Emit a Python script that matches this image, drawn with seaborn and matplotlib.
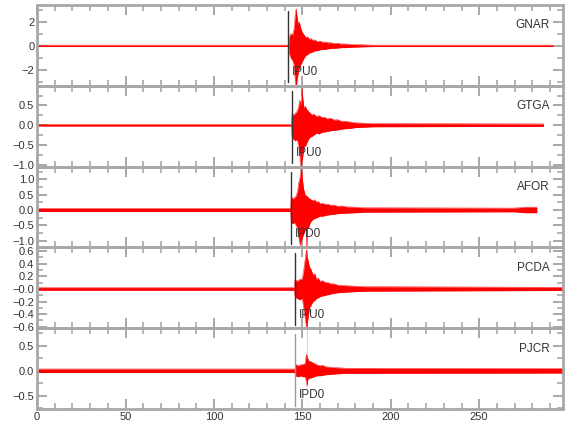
import matplotlib
matplotlib.use("Agg")
import pandas as pd
import matplotlib.pyplot as plt
import matplotlib.ticker as mticker
import matplotlib.transforms as mtransforms
import seaborn as sns

# stations, top to bottom
stations = ['GNAR', 'GTGA', 'AFOR', 'PCDA', 'PJCR']
pick_labels = ['IPU0', 'IPU0', 'IPD0', 'IPU0', 'IPD0']
pick_times = [142.1, 144.0, 143.5, 145.7, 146.0]

# trace envelopes (time in s, upper / lower amplitude)
gnar_t = [0, 142.4, 142.8, 143.5, 144.5, 145.3, 146.0, 146.5, 147.0, 147.6, 148.2, 149.0, 150.0,
          151.0, 152.0, 153.0, 154.0, 155.0, 156.0, 157.0, 158.5, 160.0, 161.5, 163.0, 164.5,
          166.0, 168.0, 170.0, 172.0, 174.0, 177.0, 180.0, 185.0, 190.0, 291.8]
gnar_up = [0.06, 0.06, 0.8, 1.0, 0.9, 1.4, 2.6, 3.1, 2.4, 1.8, 2.0, 1.5, 1.1,
           0.9, 0.7, 0.75, 0.55, 0.6, 0.45, 0.5, 0.35, 0.4, 0.3, 0.32, 0.25,
           0.26, 0.2, 0.22, 0.15, 0.16, 0.12, 0.1, 0.08, 0.06, 0.06]
gnar_lo = [-0.06, -0.06, -0.7, -1.0, -1.2, -1.6, -3.0, -3.7, -2.8, -2.3, -1.9, -1.6, -1.3,
           -1.0, -0.8, -0.7, -0.6, -0.55, -0.5, -0.42, -0.4, -0.33, -0.3, -0.28, -0.25,
           -0.22, -0.2, -0.18, -0.15, -0.15, -0.12, -0.1, -0.08, -0.06, -0.06]

gtga_t = [0, 143.9, 144.2, 145.0, 146.0, 147.0, 147.8, 148.5, 149.2, 149.8, 150.2, 150.8, 151.6,
          152.5, 153.5, 154.4, 155.5, 156.5, 158.0, 159.5, 161.0, 162.5, 164.0, 166.0, 168.0,
          170.0, 172.0, 174.0, 177.0, 180.0, 185.0, 190.0, 286.4]
gtga_up = [0.02, 0.02, 0.3, 0.25, 0.3, 0.35, 0.45, 0.63, 0.5, 0.95, 0.7, 0.45, 0.48,
           0.4, 0.35, 0.3, 0.26, 0.28, 0.22, 0.24, 0.2, 0.2, 0.16, 0.18, 0.13,
           0.14, 0.1, 0.1, 0.08, 0.06, 0.05, 0.04, 0.03]
gtga_lo = [-0.02, -0.02, -0.3, -0.35, -0.4, -0.35, -0.5, -0.7, -1.15, -0.9, -0.8, -0.55, -0.53,
           -0.45, -0.35, -0.3, -0.28, -0.25, -0.2, -0.22, -0.18, -0.17, -0.16, -0.14, -0.13,
           -0.12, -0.1, -0.09, -0.08, -0.06, -0.05, -0.04, -0.03]

afor_t = [0, 143.4, 143.7, 144.5, 145.5, 146.5, 147.3, 148.0, 148.8, 149.4, 150.0, 150.6, 151.5,
          152.3, 152.5, 152.7, 153.3, 154.5, 156.0, 157.0, 158.0, 159.0, 160.0, 161.5, 163.0,
          164.5, 166.0, 168.0, 170.0, 172.5, 175.0, 180.0, 185.0, 270.0, 276.0, 282.6]
afor_up = [0.05, 0.05, 0.45, 0.35, 0.4, 0.45, 0.6, 0.9, 1.1, 1.45, 1.0, 0.7, 0.5,
           0.45, 0.45, 0.45, 0.4, 0.35, 0.3, 0.33, 0.25, 0.28, 0.2, 0.22, 0.18,
           0.19, 0.15, 0.16, 0.12, 0.13, 0.1, 0.09, 0.07, 0.06, 0.09, 0.09]
afor_lo = [-0.05, -0.05, -0.4, -0.45, -0.4, -0.5, -0.6, -0.9, -1.15, -1.0, -0.9, -0.8, -0.66,
           -0.66, -1.47, -0.6, -0.6, -0.4, -0.3, -0.28, -0.25, -0.23, -0.2, -0.2, -0.18,
           -0.16, -0.15, -0.14, -0.12, -0.11, -0.1, -0.09, -0.07, -0.06, -0.09, -0.09]

pcda_t = [0, 145.5, 145.8, 147.0, 148.5, 150.0, 150.8, 151.5, 152.0, 152.3, 152.5, 152.7, 153.2,
          154.0, 155.0, 156.0, 157.0, 158.0, 159.0, 160.0, 161.5, 163.0, 164.5, 166.0, 168.0,
          170.0, 175.0, 185.0, 297.5]
pcda_up = [0.02, 0.02, 0.15, 0.12, 0.15, 0.16, 0.3, 0.45, 0.55, 0.62, 0.6, 0.5, 0.45,
           0.35, 0.3, 0.22, 0.24, 0.15, 0.17, 0.12, 0.13, 0.1, 0.1, 0.08, 0.08,
           0.06, 0.05, 0.035, 0.025]
pcda_lo = [-0.02, -0.02, -0.12, -0.15, -0.17, -0.15, -0.3, -0.45, -0.55, -0.6, -1.95, -0.55, -0.45,
           -0.3, -0.25, -0.2, -0.18, -0.15, -0.14, -0.12, -0.11, -0.1, -0.09, -0.08, -0.07,
           -0.06, -0.05, -0.035, -0.025]

pjcr_t = [0, 145.9, 146.2, 147.5, 149.0, 150.5, 151.6, 152.2, 152.6, 153.0, 153.5, 155.0, 156.5,
          158.2, 160.0, 161.5, 163.0, 166.0, 170.0, 175.0, 297.5]
pjcr_up = [0.035, 0.035, 0.13, 0.1, 0.12, 0.13, 0.15, 0.33, 0.3, 0.25, 0.2, 0.18, 0.15,
           0.12, 0.1, 0.11, 0.08, 0.07, 0.06, 0.05, 0.045]
pjcr_lo = [-0.035, -0.035, -0.1, -0.12, -0.1, -0.12, -0.12, -0.2, -0.3, -0.18, -0.15, -0.14, -0.12,
           -0.1, -0.1, -0.09, -0.08, -0.07, -0.06, -0.05, -0.045]

traces = [(gnar_t, gnar_up, gnar_lo), (gtga_t, gtga_up, gtga_lo), (afor_t, afor_up, afor_lo),
          (pcda_t, pcda_up, pcda_lo), (pjcr_t, pjcr_up, pjcr_lo)]

# axis ranges and tick labels per panel
ylims = [(-3.34, 3.43), (-1.05, 1.0), (-1.22, 1.41), (-0.624, 0.656), (-0.77, 0.85)]
yticks = [[2, 0, -2], [0.5, 0.0, -0.5, -1.0], [1.0, 0.5, 0.0, -0.5, -1.0],
          [0.6, 0.4, 0.2, 0.0, -0.2, -0.4, -0.6], [0.5, 0.0, -0.5]]
yticklabels = [['2', '0', '\u22122'], ['0.5', '0.0', '\u22120.5', '\u22121.0'],
               ['1.0', '0.5', '0.0', '\u22120.5', '\u22121.0'],
               ['0.6', '0.4', '0.2', '\u22120.0', '\u22120.2', '\u22120.4', '\u22120.6'],
               ['0.5', '0.0', '\u22120.5']]
yminor = [1, 0.25, 0.25, 0.1, 0.25]
xticks = [0, 50, 100, 150, 200, 250]

sns.set_style("ticks")
plt.rcParams['font.family'] = ['Liberation Sans Narrow', 'Liberation Sans', 'DejaVu Sans']

fig, axes = plt.subplots(5, 1, figsize=(5.8, 4.4), dpi=100, sharex=True)
fig.subplots_adjust(left=0.064, right=0.971, top=0.989, bottom=0.070, hspace=0)

frame = '#a8a8a8'
txt = '#333333'
pick_colors = ['#333333', '#333333', '#333333', '#333333', '#999999']

for i, ax in enumerate(axes):
    t, up, lo = traces[i]
    df = pd.DataFrame({'t': t, 'upper': up, 'lower': lo})
    ax.set_facecolor('none')
    # overflow beyond the panel shows faintly
    ax.fill_between(df['t'], df['lower'], df['upper'], color='#ff9a9a', lw=0,
                    clip_on=False, zorder=0.5)
    ax.fill_between(df['t'], df['lower'], df['upper'], color='#ff0000', lw=0, zorder=2)
    sns.lineplot(data=df, x='t', y='upper', color='#ff0000', lw=0.35, ax=ax, zorder=2)
    sns.lineplot(data=df, x='t', y='lower', color='#ff0000', lw=0.35, ax=ax, zorder=2)
    ax.set_xlabel('')
    ax.set_ylabel('')

    ax.axvline(pick_times[i], ymin=0.04, ymax=0.93, color=pick_colors[i], lw=1.0, zorder=3)
    trans = mtransforms.blended_transform_factory(ax.transData, ax.transAxes)
    ax.text(pick_times[i] + 2.2, 0.17, pick_labels[i], transform=trans, ha='left',
            va='center', fontsize=8.5, color=txt)
    ax.text(0.975, 0.75, stations[i], transform=ax.transAxes, ha='right', va='center',
            fontsize=8.5, color=txt)

    ax.set_xlim(0, 297.5)
    ax.set_ylim(*ylims[i])
    ax.yaxis.set_major_locator(mticker.FixedLocator(yticks[i]))
    ax.yaxis.set_major_formatter(mticker.FixedFormatter(yticklabels[i]))
    ax.yaxis.set_minor_locator(mticker.MultipleLocator(yminor[i]))
    ax.xaxis.set_major_locator(mticker.FixedLocator(xticks))
    ax.xaxis.set_minor_locator(mticker.MultipleLocator(10))

    ax.tick_params(which='both', direction='in', top=True, right=True, color=frame,
                   labelcolor=txt, labelsize=8, pad=2)
    ax.tick_params(which='major', length=7, width=1.4)
    ax.tick_params(which='minor', length=4, width=1.2)
    for s in ax.spines.values():
        s.set_color(frame)
        s.set_linewidth(2)
        s.set_zorder(4)

axes[-1].set_xticklabels([str(v) for v in xticks])

fig.savefig('out.png', dpi=100)
